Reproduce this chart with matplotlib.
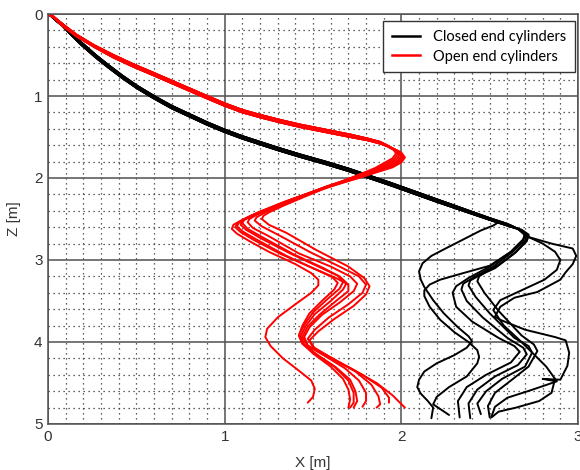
import matplotlib
matplotlib.use("Agg")
import matplotlib.pyplot as plt
from matplotlib.ticker import MultipleLocator
from matplotlib.lines import Line2D

# shared upper path of the closed end runs (two edges of the bundle)
closed_trunk_x = [0, 0.02, 0.05, 0.08, 0.12, 0.18, 0.27, 0.34, 0.42, 0.50, 0.60, 0.70, 0.80, 0.90,
                  1.00, 1.10, 1.20, 1.30, 1.43, 1.57, 1.70, 1.94, 2.20, 2.50, 2.60]
closed_trunk_z = [0, 0.02, 0.07, 0.12, 0.20, 0.33, 0.50, 0.62, 0.75, 0.87, 1.00, 1.12, 1.22, 1.32,
                  1.41, 1.49, 1.56, 1.63, 1.715, 1.80, 1.885, 2.06, 2.26, 2.49, 2.56]
closed_trunk_z2 = [0, 0.03, 0.09, 0.14, 0.23, 0.36, 0.53, 0.65, 0.78, 0.90, 1.03, 1.15, 1.25, 1.35,
                   1.44, 1.52, 1.59, 1.66, 1.745, 1.83, 1.915, 2.09, 2.29, 2.51, 2.58]

# lower parts of each closed end run (x, z)
closed_a = [(2.55, 2.54), (2.52, 2.58), (2.45, 2.64), (2.35, 2.75), (2.25, 2.86), (2.17, 2.95),
            (2.12, 3.04), (2.10, 3.14), (2.11, 3.24), (2.13, 3.33), (2.18, 3.49), (2.24, 3.65),
            (2.32, 3.82), (2.38, 3.93), (2.40, 3.99), (2.37, 4.07), (2.30, 4.16), (2.20, 4.26),
            (2.13, 4.36), (2.10, 4.46), (2.09, 4.55), (2.11, 4.63), (2.15, 4.72), (2.18, 4.80),
            (2.17, 4.93)]
closed_b = [(2.66, 2.62), (2.70, 2.68), (2.69, 2.75), (2.62, 2.90), (2.50, 3.07), (2.35, 3.16),
            (2.22, 3.24), (2.16, 3.30), (2.13, 3.37), (2.13, 3.44), (2.16, 3.57), (2.22, 3.73),
            (2.30, 3.88), (2.38, 4.00), (2.43, 4.10), (2.44, 4.18), (2.43, 4.26), (2.37, 4.42),
            (2.27, 4.55), (2.20, 4.67), (2.18, 4.76), (2.27, 4.89)]
closed_c = [(2.66, 2.62), (2.70, 2.68), (2.69, 2.75), (2.62, 2.90), (2.50, 3.08), (2.38, 3.22),
            (2.31, 3.32), (2.29, 3.40), (2.31, 3.57), (2.40, 3.75), (2.55, 3.95), (2.64, 4.05),
            (2.67, 4.12), (2.62, 4.25), (2.48, 4.40), (2.37, 4.55), (2.32, 4.72), (2.33, 4.92)]
closed_d = [(2.67, 2.63), (2.71, 2.69), (2.70, 2.76), (2.63, 2.90), (2.52, 3.08), (2.41, 3.21),
            (2.35, 3.29), (2.34, 3.36), (2.37, 3.50), (2.46, 3.70), (2.60, 3.95), (2.69, 4.07),
            (2.71, 4.15), (2.66, 4.28), (2.53, 4.42), (2.43, 4.58), (2.38, 4.75), (2.39, 4.93)]
closed_e = [(2.68, 2.64), (2.72, 2.70), (2.71, 2.77), (2.64, 2.92), (2.53, 3.10), (2.44, 3.19),
            (2.39, 3.25), (2.38, 3.31), (2.42, 3.45), (2.50, 3.65), (2.64, 3.95), (2.72, 4.05),
            (2.74, 4.13), (2.70, 4.30), (2.57, 4.45), (2.48, 4.60), (2.43, 4.75), (2.45, 4.88)]
closed_f = [(2.68, 2.63), (2.72, 2.69), (2.71, 2.76), (2.65, 2.90), (2.55, 3.06), (2.48, 3.14),
            (2.44, 3.20), (2.43, 3.26), (2.47, 3.40), (2.55, 3.62), (2.68, 3.92), (2.75, 4.03),
            (2.77, 4.11), (2.72, 4.30), (2.62, 4.47), (2.53, 4.62), (2.49, 4.78), (2.50, 4.92)]
closed_g = [(2.66, 2.62), (2.72, 2.72), (2.85, 2.80), (2.97, 2.86), (2.99, 2.95), (2.97, 3.05),
            (2.93, 3.15), (2.90, 3.24), (2.77, 3.39), (2.64, 3.46), (2.56, 3.57), (2.53, 3.69),
            (2.56, 3.73), (2.70, 3.85), (2.87, 3.94), (2.93, 3.98), (2.95, 4.13), (2.94, 4.29),
            (2.90, 4.46), (2.80, 4.45), (2.88, 4.48), (2.73, 4.59), (2.60, 4.68), (2.53, 4.79),
            (2.51, 4.91)]
closed_h = [(2.66, 2.62), (2.70, 2.70), (2.80, 2.80), (2.87, 2.90), (2.90, 3.00), (2.88, 3.12),
            (2.81, 3.24), (2.68, 3.37), (2.56, 3.49), (2.52, 3.61), (2.58, 3.80), (2.67, 3.98),
            (2.75, 4.15), (2.82, 4.30), (2.87, 4.45), (2.85, 4.62), (2.78, 4.72), (2.65, 4.80),
            (2.55, 4.85), (2.51, 4.92)]

# shared upper path of the open end runs
open_trunk_x = [0, 0.03, 0.08, 0.16, 0.26, 0.37, 0.48, 0.60, 0.75, 0.89, 1.00, 1.10, 1.20,
                1.31, 1.43, 1.57, 1.71, 1.81, 1.88]
open_trunk_z = [0, 0.03, 0.12, 0.25, 0.38, 0.50, 0.61, 0.72, 0.86, 0.99, 1.09, 1.17, 1.23,
                1.29, 1.35, 1.41, 1.47, 1.52, 1.56]
open_trunk_z2 = [0, 0.04, 0.14, 0.27, 0.40, 0.53, 0.64, 0.75, 0.89, 1.02, 1.12, 1.20, 1.26,
                 1.32, 1.38, 1.44, 1.50, 1.54, 1.58]

# lower parts of each open end run (x, z)
open_a = [(1.95, 1.64), (2.00, 1.69), (2.02, 1.75), (2.00, 1.81), (1.95, 1.87), (1.86, 1.93),
          (1.76, 2.00), (1.55, 2.13), (1.33, 2.30), (1.18, 2.43), (1.10, 2.51), (1.05, 2.57),
          (1.04, 2.62), (1.07, 2.68), (1.14, 2.77), (1.25, 2.90), (1.40, 3.05), (1.49, 3.16),
          (1.53, 3.24), (1.53, 3.31), (1.49, 3.40), (1.40, 3.54), (1.30, 3.70), (1.24, 3.84),
          (1.23, 3.94), (1.26, 4.05), (1.33, 4.20), (1.42, 4.35), (1.49, 4.47), (1.51, 4.57),
          (1.50, 4.67), (1.47, 4.74)]
open_b = [(1.94, 1.63), (1.99, 1.68), (2.01, 1.74), (1.99, 1.80), (1.94, 1.86), (1.86, 1.92),
          (1.76, 1.99), (1.56, 2.12), (1.35, 2.28), (1.20, 2.41), (1.12, 2.49), (1.08, 2.54),
          (1.07, 2.59), (1.10, 2.65), (1.18, 2.75), (1.35, 2.95), (1.52, 3.12), (1.61, 3.21),
          (1.64, 3.28), (1.62, 3.36), (1.55, 3.50), (1.48, 3.65), (1.44, 3.80), (1.42, 3.92),
          (1.44, 4.02), (1.50, 4.14), (1.60, 4.30), (1.67, 4.45), (1.70, 4.58), (1.71, 4.70),
          (1.70, 4.80)]
open_c = [(1.93, 1.62), (1.98, 1.67), (2.00, 1.73), (1.98, 1.79), (1.93, 1.85), (1.85, 1.91),
          (1.76, 1.98), (1.57, 2.11), (1.37, 2.27), (1.23, 2.39), (1.14, 2.47), (1.10, 2.52),
          (1.09, 2.57), (1.12, 2.63), (1.20, 2.73), (1.38, 2.93), (1.55, 3.10), (1.65, 3.20),
          (1.69, 3.28), (1.67, 3.36), (1.60, 3.50), (1.51, 3.66), (1.46, 3.80), (1.43, 3.93),
          (1.45, 4.03), (1.52, 4.15), (1.63, 4.31), (1.71, 4.46), (1.74, 4.60), (1.75, 4.72),
          (1.73, 4.80)]
open_d = [(1.92, 1.61), (1.97, 1.66), (1.99, 1.72), (1.97, 1.78), (1.92, 1.84), (1.85, 1.90),
          (1.76, 1.97), (1.58, 2.10), (1.39, 2.26), (1.26, 2.37), (1.18, 2.45), (1.14, 2.50),
          (1.13, 2.54), (1.16, 2.61), (1.25, 2.71), (1.42, 2.92), (1.60, 3.08), (1.71, 3.20),
          (1.75, 3.29), (1.73, 3.38), (1.65, 3.52), (1.55, 3.67), (1.48, 3.82), (1.45, 3.94),
          (1.47, 4.04), (1.56, 4.16), (1.68, 4.32), (1.76, 4.47), (1.80, 4.62), (1.80, 4.72),
          (1.78, 4.79)]
open_e = [(1.92, 1.60), (1.96, 1.65), (1.98, 1.71), (1.96, 1.77), (1.91, 1.83), (1.85, 1.89),
          (1.77, 1.96), (1.60, 2.09), (1.42, 2.24), (1.30, 2.35), (1.22, 2.43), (1.18, 2.48),
          (1.17, 2.52), (1.21, 2.59), (1.30, 2.69), (1.48, 2.90), (1.65, 3.08), (1.76, 3.20),
          (1.80, 3.30), (1.78, 3.40), (1.70, 3.54), (1.59, 3.70), (1.51, 3.85), (1.47, 3.96),
          (1.50, 4.06), (1.60, 4.19), (1.74, 4.36), (1.83, 4.52), (1.87, 4.66), (1.88, 4.76),
          (1.86, 4.80)]
open_f = [(1.91, 1.59), (1.95, 1.64), (1.97, 1.70), (1.95, 1.76), (1.90, 1.82), (1.85, 1.88),
          (1.77, 1.95), (1.62, 2.08), (1.45, 2.23), (1.33, 2.34), (1.25, 2.42), (1.22, 2.46),
          (1.21, 2.50), (1.25, 2.57), (1.35, 2.67), (1.52, 2.88), (1.70, 3.08), (1.79, 3.22),
          (1.82, 3.32), (1.80, 3.42), (1.73, 3.56), (1.62, 3.72), (1.53, 3.87), (1.48, 3.98),
          (1.51, 4.08), (1.62, 4.21), (1.78, 4.40), (1.89, 4.56), (1.93, 4.68), (1.93, 4.74)]
open_g = [(1.94, 1.64), (1.99, 1.69), (2.01, 1.75), (1.99, 1.81), (1.94, 1.87), (1.85, 1.93),
          (1.75, 2.00), (1.55, 2.14), (1.34, 2.30), (1.19, 2.43), (1.11, 2.51), (1.07, 2.56),
          (1.06, 2.60), (1.09, 2.66), (1.16, 2.75), (1.32, 2.93), (1.50, 3.10), (1.63, 3.22),
          (1.70, 3.30), (1.70, 3.38), (1.63, 3.50), (1.54, 3.66), (1.47, 3.81), (1.44, 3.94),
          (1.47, 4.05), (1.57, 4.17), (1.72, 4.33), (1.86, 4.50), (1.95, 4.65), (2.02, 4.80)]
open_h = [(1.93, 1.62), (1.98, 1.67), (2.00, 1.74), (1.98, 1.80), (1.93, 1.86), (1.85, 1.92),
          (1.76, 1.98), (1.57, 2.11), (1.37, 2.27), (1.24, 2.38), (1.15, 2.46), (1.11, 2.51),
          (1.10, 2.55), (1.13, 2.62), (1.22, 2.73), (1.39, 2.93), (1.56, 3.10), (1.64, 3.19),
          (1.67, 3.27), (1.65, 3.35), (1.58, 3.48), (1.50, 3.64), (1.45, 3.79), (1.42, 3.92),
          (1.44, 4.02), (1.51, 4.14), (1.62, 4.30), (1.70, 4.47), (1.73, 4.62), (1.73, 4.74),
          (1.71, 4.80)]

closed_runs = [closed_a, closed_b, closed_c, closed_d, closed_e, closed_f, closed_g, closed_h]
open_runs = [open_a, open_b, open_c, open_d, open_e, open_f, open_g, open_h]


def draw_run(ax, trunk_x, trunk_z, tail, color):
    xs = list(trunk_x) + [p[0] for p in tail]
    zs = list(trunk_z) + [p[1] for p in tail]
    ax.plot(xs, zs, color=color, lw=1.4, solid_joinstyle='round', solid_capstyle='round')


fig = plt.figure(figsize=(5.8, 4.7), dpi=100)
ax = fig.add_axes([0.0828, 0.0979, 0.9138, 0.8723])

for i, tail in enumerate(closed_runs):
    tz = closed_trunk_z if i % 2 == 0 else closed_trunk_z2
    # skip the trunk's last point when the run peels off before it
    tx = closed_trunk_x if tail[0][0] > 2.6 else closed_trunk_x[:-1]
    draw_run(ax, tx, tz[:len(tx)], tail, 'black')
for i, tail in enumerate(open_runs):
    tz = open_trunk_z if i % 2 == 0 else open_trunk_z2
    draw_run(ax, open_trunk_x, tz, tail, '#ff0000')

ax.set_xlim(0, 3)
ax.set_ylim(5, 0)
ax.xaxis.set_major_locator(MultipleLocator(1))
ax.yaxis.set_major_locator(MultipleLocator(1))
ax.xaxis.set_minor_locator(MultipleLocator(0.1))
ax.yaxis.set_minor_locator(MultipleLocator(0.2))
ax.grid(which='major', color='#505050', lw=1.1, ls='-')
ax.grid(which='minor', color='#303030', lw=0.9, ls=(0, (1, 3)))
ax.set_axisbelow(True)
ax.tick_params(which='both', length=0, pad=4, labelsize=11)
for lab in ax.get_xticklabels() + ax.get_yticklabels():
    lab.set_fontfamily('Liberation Sans')
    lab.set_color('#333333')
for sp in ax.spines.values():
    sp.set_color('#505050')
    sp.set_linewidth(1.1)

ax.set_xlabel('X [m]', fontsize=11, family='Liberation Sans', color='#333333', labelpad=9)
ax.set_ylabel('Z [m]', fontsize=11, family='Liberation Sans', color='#333333', labelpad=9)

handles = [Line2D([], [], color='black', lw=1.8), Line2D([], [], color='#ff0000', lw=1.8)]
leg = ax.legend(handles, ['Closed end cylinders', 'Open end cylinders'], loc='upper right',
                bbox_to_anchor=(0.994, 0.983), borderaxespad=0, fancybox=False, framealpha=1,
                edgecolor='#333333', prop={'family': 'Lato', 'size': 10.5}, handlelength=1.9,
                borderpad=0.6, labelspacing=0.4, handletextpad=0.9)
leg.get_frame().set_linewidth(1.0)

fig.savefig('out.png', dpi=100)
